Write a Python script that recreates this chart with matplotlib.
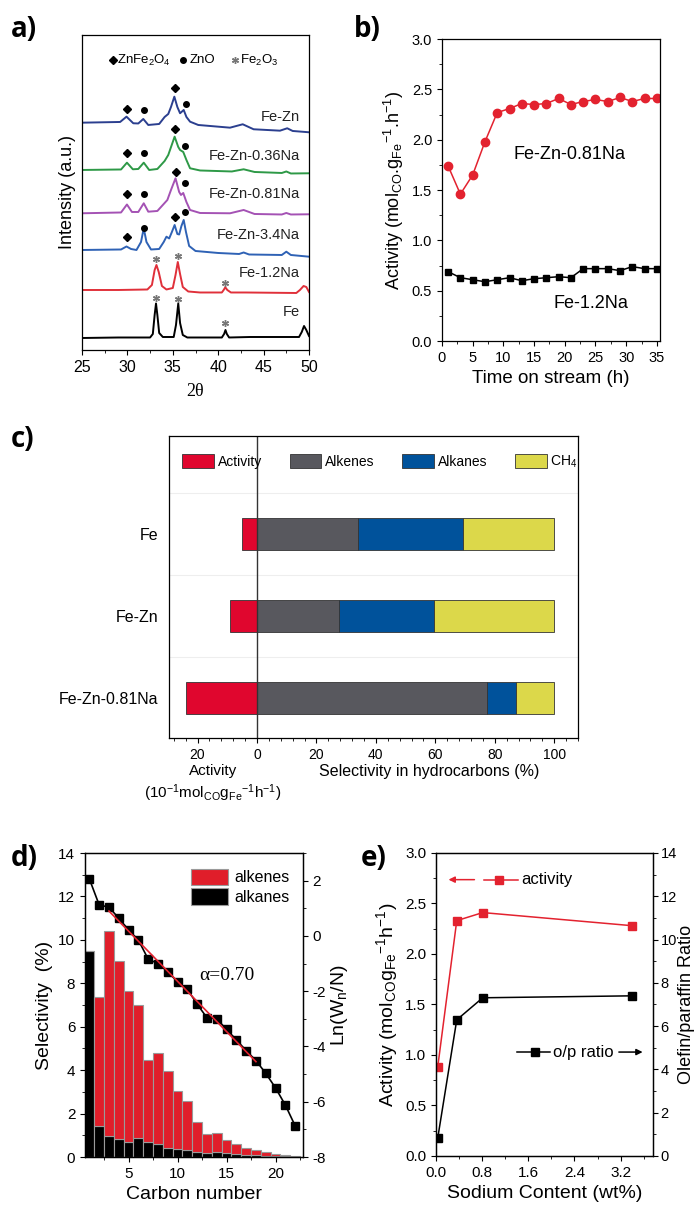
import numpy as np
import matplotlib
matplotlib.use("Agg")
import matplotlib.pyplot as plt
from matplotlib.ticker import MultipleLocator, FuncFormatter

plt.rcParams['font.family'] = ['Liberation Sans', 'DejaVu Sans']
plt.rcParams['mathtext.fontset'] = 'custom'
plt.rcParams['mathtext.rm'] = 'Liberation Sans'
plt.rcParams['mathtext.it'] = 'Liberation Sans:italic'
plt.rcParams['mathtext.default'] = 'regular'
plt.rcParams['axes.linewidth'] = 0.9
plt.rcParams['axes.unicode_minus'] = False
plt.rcParams['xtick.direction'] = 'out'
plt.rcParams['ytick.direction'] = 'out'

# ── a) XRD patterns (2theta, intensity a.u.) ────────────────────────────────
fe_tt = [25, 29, 32.5, 32.8, 33.0, 33.15, 33.3, 33.5, 33.9, 35.1, 35.35, 35.6, 35.8,
         36.1, 36.6, 40.4, 40.65, 40.8, 40.95, 41.2, 43.5, 48.9, 49.2, 49.45, 49.7, 50]
fe_int = [12, 12.5, 12.5, 16, 35, 46.5, 35, 17, 13, 13, 25, 46.5, 27,
          15, 12.5, 12.5, 16, 20, 16, 12.5, 13, 13, 18, 24, 20, 14]

fe12_tt = [25, 29, 32.2, 32.7, 33.0, 33.2, 33.45, 33.8, 34.3, 35.0, 35.3, 35.55, 35.8,
           36.1, 36.7, 38, 40.4, 40.6, 40.78, 41.0, 41.4, 43, 48.6, 49.0, 49.4, 49.7, 50]
fe12_int = [60, 60, 60.5, 65, 80, 85, 78, 64, 60.5, 62, 75, 88, 76,
            63, 58.5, 57.5, 57.5, 60, 62.7, 60, 57.5, 57.5, 57, 60, 64, 63, 58]

zn34_tt = [25, 29.3, 29.9, 30.4, 31.0, 31.5, 31.8, 32.1, 32.6, 33.5, 34.0, 34.3, 34.6,
           34.9, 35.2, 35.5, 35.7, 35.95, 36.2, 36.45, 36.8, 37.5, 40, 42.3, 42.8, 43.4,
           47.0, 47.5, 48, 50]
zn34_int = [100, 100.5, 103.5, 101, 100, 108, 121.7, 108, 100.5, 101, 108, 113.3, 111.5,
            118, 125, 116, 115.5, 124, 130, 118, 104, 99, 97, 96, 97.5, 95.5,
            95, 98.3, 95, 93.3]

zn081_tt = [25, 29.3, 29.95, 30.5, 31.2, 31.8, 32.3, 33.3, 34.0, 34.4, 34.8, 35.3, 35.7,
            35.9, 36.15, 36.5, 36.9, 38, 41.3, 42.8, 44, 47, 47.5, 48, 50]
zn081_int = [136.7, 137.5, 145.5, 138, 138, 146.7, 138.3, 139, 146, 150, 160, 171.7, 158,
             155, 157, 148, 140, 137, 136.7, 140, 136, 135.5, 137, 135.5, 135.7]

zn036_tt = [25, 29.3, 29.95, 30.6, 31.2, 31.8, 32.4, 33.3, 34.1, 34.5, 35.2, 35.6, 35.8,
            36.15, 36.5, 36.9, 38, 41.5, 42.8, 44, 47, 47.5, 48, 50]
zn036_int = [180, 180.5, 187.3, 180.7, 181, 187.3, 180, 181, 189, 195, 213.3, 203, 200,
             198, 190, 181.7, 179.5, 178.5, 180.7, 178, 177, 178.5, 176.5, 176.7]

fezn_tt = [25, 29.2, 29.9, 30.65, 31.2, 31.75, 32.3, 33.5, 34.1, 34.5, 34.8, 35.17, 35.5,
           35.8, 36.2, 36.5, 36.9, 37.8, 41.3, 42.7, 43.9, 46.8, 47.6, 48.2, 50]
fezn_int = [227.3, 228, 233.3, 226.7, 226.5, 231, 225, 226, 233, 236, 243, 253.3, 243,
            236.7, 240, 233, 228.3, 225, 222.3, 225.7, 220.7, 219.3, 221.7, 219, 217.7]

xrd_names = ["Fe-Zn", "Fe-Zn-0.36Na", "Fe-Zn-0.81Na", "Fe-Zn-3.4Na", "Fe-1.2Na", "Fe"]
xrd_label_y = [233, 194, 156, 115, 77, 38]

# phase markers (2theta, height)
znfe_tt = [30, 35.2, 30, 35.2, 30, 35.3, 30, 35.2]
znfe_y = [240.7, 261.7, 196.7, 220.7, 156, 178.3, 113.3, 132.7]
zno_tt = [31.8, 36.4, 31.8, 36.3, 31.8, 36.3, 31.8, 36.3]
zno_y = [240, 245.7, 196.7, 204.3, 156, 166.7, 121.7, 137.7]
fe2o3_tt = [33.2, 35.6, 40.8, 33.1, 35.6, 40.8]
fe2o3_y = [90.7, 94, 67.3, 52.3, 50.7, 26.7]

# ── b) activity vs time on stream ───────────────────────────────────────────
tos = [1, 3, 5, 7, 9, 11, 13, 15, 17, 19, 21, 23, 25, 27, 29, 31, 33, 35]
act_fezn081 = [1.74, 1.46, 1.65, 1.98, 2.27, 2.31, 2.36, 2.35, 2.36, 2.41, 2.35, 2.38,
               2.40, 2.38, 2.42, 2.38, 2.41, 2.41]
act_fe12 = [0.69, 0.63, 0.61, 0.59, 0.61, 0.63, 0.60, 0.62, 0.63, 0.64, 0.63, 0.72,
            0.72, 0.72, 0.70, 0.74, 0.72, 0.72]

# ── c) activity and selectivity ─────────────────────────────────────────────
cat_c = ["Fe-Zn-0.81Na", "Fe-Zn", "Fe"]
activity_c = [24, 9, 5]
alkenes_c = [77.4, 27.6, 34.0]
alkanes_c = [9.8, 32.0, 35.4]
ch4_c = [12.8, 40.4, 30.6]

# ── d) product distribution ─────────────────────────────────────────────────
carbon = [1, 2, 3, 4, 5, 6, 7, 8, 9, 10, 11, 12, 13, 14, 15, 16, 17, 18, 19, 20, 21, 22]
alkanes_d = [9.5, 1.42, 0.95, 0.85, 0.69, 0.88, 0.71, 0.62, 0.43, 0.35, 0.32, 0.22,
             0.20, 0.25, 0.17, 0.14, 0.11, 0.09, 0.06, 0.04, 0.03, 0.02]
alkenes_d = [0, 5.96, 9.48, 8.18, 6.97, 6.12, 3.78, 4.15, 3.54, 2.68, 2.25, 1.40,
             0.88, 0.86, 0.63, 0.44, 0.32, 0.23, 0.17, 0.10, 0.06, 0.03]
ln_wn = [2.06, 1.12, 1.04, 0.64, 0.22, -0.15, -0.84, -1.00, -1.30, -1.66, -1.93, -2.47,
         -2.96, -3.00, -3.38, -3.76, -4.15, -4.51, -4.97, -5.50, -6.12, -6.87]

# ── e) effect of sodium content ─────────────────────────────────────────────
na_wt = [0.03, 0.36, 0.81, 3.4]
act_na = [0.88, 2.33, 2.41, 2.28]
op_ratio = [0.82, 6.29, 7.31, 7.40]

RED = "#e3222f"
fig = plt.figure(figsize=(6.96, 12.14), dpi=100)
PANEL = dict(fontsize=20, fontweight="bold", family="Open Sans", va="top")
fig.text(0.015, 0.988, "a)", **PANEL)
fig.text(0.508, 0.988, "b)", **PANEL)
fig.text(0.015, 0.650, "c)", **PANEL)
fig.text(0.015, 0.305, "d)", **PANEL)
fig.text(0.518, 0.305, "e)", **PANEL)

# ── a) ──────────────────────────────────────────────────────────────────────
ax = fig.add_axes([0.1178, 0.7117, 0.3262, 0.2595])
curves = [(fezn_tt, fezn_int, "#2b3f8f"), (zn036_tt, zn036_int, "#2e9947"),
          (zn081_tt, zn081_int, "#a452b4"), (zn34_tt, zn34_int, "#2f62b5"),
          (fe12_tt, fe12_int, "#e0303a"), (fe_tt, fe_int, "black")]
for (tt, inten, col), name, ly in zip(curves, xrd_names, xrd_label_y):
    ax.plot(tt, inten, color=col, lw=1.4)
    ax.text(49.0, ly, name, ha="right", va="center", fontsize=10.5, color="#222222")
ax.plot(znfe_tt, znfe_y, "D", color="black", ms=4.5, ls="none")
ax.plot(zno_tt, zno_y, "o", color="black", ms=4, ls="none")
ax.plot(fe2o3_tt, fe2o3_y, marker=(6, 2, 0), color="#777777", ms=5, ls="none", mew=1)
# phase key
ax.plot([28.45], [290], "D", color="black", ms=4.5)
ax.text(28.9, 290, "ZnFe$_2$O$_4$", va="center", fontsize=9.5)
ax.plot([36.1], [290], "o", color="black", ms=4)
ax.text(36.9, 290, "ZnO", va="center", fontsize=9.5)
ax.plot([41.8], [290], marker=(6, 2, 0), color="#777777", ms=5, mew=1)
ax.text(42.4, 290, "Fe$_2$O$_3$", va="center", fontsize=9.5)
ax.set_xlim(25, 50)
ax.set_ylim(0, 315)
ax.set_yticks([])
ax.xaxis.set_major_locator(MultipleLocator(5))
ax.xaxis.set_minor_locator(MultipleLocator(2.5))
ax.tick_params(labelsize=11.5)
ax.set_ylabel("Intensity (a.u.)", fontsize=13)
ax.set_xlabel("2θ", fontsize=13, family="Liberation Serif", labelpad=6)

# ── b) ──────────────────────────────────────────────────────────────────────
ax = fig.add_axes([0.635, 0.719, 0.3132, 0.2488])
ax.plot(tos, act_fezn081, "-o", color=RED, ms=6, lw=1.1)
ax.plot(tos, act_fe12, "-s", color="black", ms=5, lw=1.1)
ax.text(11.7, 1.85, "Fe-Zn-0.81Na", fontsize=13, va="center")
ax.text(18.2, 0.37, "Fe-1.2Na", fontsize=13, va="center")
ax.set_xlim(0, 35.5)
ax.set_ylim(0, 3.0)
ax.xaxis.set_major_locator(MultipleLocator(5))
ax.xaxis.set_minor_locator(MultipleLocator(2.5))
ax.yaxis.set_major_locator(MultipleLocator(0.5))
ax.yaxis.set_minor_locator(MultipleLocator(0.25))
ax.yaxis.set_major_formatter(FuncFormatter(lambda v, p: f"{v:.1f}"))
ax.tick_params(labelsize=10.5)
ax.set_xlabel("Time on stream (h)", fontsize=13.5)
ax.set_ylabel("Activity (mol$_{CO}$.g$_{Fe}$$^{-1}$.h$^{-1}$)", fontsize=13)

# ── c) ──────────────────────────────────────────────────────────────────────
NARROW = ["Liberation Sans Narrow", "Liberation Sans", "DejaVu Sans"]
ax = fig.add_axes([0.2428, 0.392, 0.5876, 0.2488])
ypos = np.arange(len(cat_c))
h = 0.39
ec = dict(edgecolor="#333333", linewidth=0.6)
b1 = ax.barh(ypos, [-a for a in activity_c], height=h, color="#e0062e", label="Activity", **ec)
b2 = ax.barh(ypos, alkenes_c, height=h, color="#58585e", label="Alkenes", **ec)
left2 = np.array(alkenes_c)
b3 = ax.barh(ypos, alkanes_c, left=left2, height=h, color="#00529b", label="Alkanes", **ec)
left3 = left2 + np.array(alkanes_c)
b4 = ax.barh(ypos, ch4_c, left=left3, height=h, color="#dcd84a", label="CH$_4$", **ec)
for yv in [0.5, 1.5, 2.5]:
    ax.axhline(yv, color="#eeeeee", lw=0.8, zorder=0)
ax.axvline(0, color="#333333", lw=1.0)
ax.set_xlim(-29.6, 108)
ax.set_ylim(-0.49, 3.2)
ax.set_yticks(ypos)
ax.set_yticklabels(cat_c, family=NARROW, fontsize=11.5)
ax.tick_params(axis="y", length=0, pad=8)
ax.set_xticks([-20, 0, 20, 40, 60, 80, 100])
ax.xaxis.set_major_formatter(FuncFormatter(lambda v, p: f"{abs(v):.0f}"))
ax.xaxis.set_minor_locator(MultipleLocator(4))
ax.tick_params(axis="x", labelsize=10)
for lab in ax.get_xticklabels():
    lab.set_family(NARROW)
trans = ax.get_xaxis_transform()
ax.text(-14.8, -0.085, "Activity\n(10$^{-1}$mol$_{CO}$g$_{Fe}$$^{-1}$h$^{-1}$)", transform=trans,
        ha="center", va="top", fontsize=11, family=NARROW, linespacing=1.3)
ax.text(58, -0.085, "Selectivity in hydrocarbons (%)", transform=trans,
        ha="center", va="top", fontsize=11.5, family=NARROW)
ax.legend(handles=[b1, b2, b3, b4], ncol=4, loc="upper left", bbox_to_anchor=(0.015, 0.965),
          frameon=False, handlelength=2.3, handleheight=1.15, columnspacing=2.0,
          handletextpad=0.25, borderpad=0, prop=dict(family=NARROW, size=10))

# ── d) ──────────────────────────────────────────────────────────────────────
ax = fig.add_axes([0.1221, 0.04695, 0.3132, 0.2504])
bk = ax.bar(carbon, alkanes_d, width=1.0, color="black", edgecolor="#9a9a9a", lw=0.8,
            label="alkanes")
rd = ax.bar(carbon, alkenes_d, bottom=alkanes_d, width=1.0, color="#e01e2a",
            edgecolor="#9a9a9a", lw=0.8, label="alkenes")
ax.set_xlim(0.55, 22.8)
ax.set_ylim(0, 14)
ax.xaxis.set_major_locator(MultipleLocator(5))
ax.xaxis.set_minor_locator(MultipleLocator(2.5))
ax.yaxis.set_major_locator(MultipleLocator(2))
ax.yaxis.set_minor_locator(MultipleLocator(1))
ax.tick_params(labelsize=11)
ax.set_xlabel("Carbon number", fontsize=14)
ax.set_ylabel("Selectivity  (%)", fontsize=14)
ax.legend(handles=[rd, bk], loc="upper left", bbox_to_anchor=(0.45, 0.975), frameon=False,
          handlelength=2.3, handleheight=1.25, labelspacing=0.15, handletextpad=0.4,
          borderpad=0, fontsize=11.5)
ax2 = ax.twinx()
ax2.plot(carbon, ln_wn, "-s", color="black", ms=5.5, lw=1.2)
cfit = np.array(carbon[2:18])
coef = np.polyfit(cfit, np.array(ln_wn[2:18]), 1)
ax2.plot(cfit, np.polyval(coef, cfit), color=RED, lw=1.2)
ax2.text(15.0, -1.42, "α=0.70", ha="center", va="center", fontsize=14,
         family="Liberation Serif")
ax2.set_ylim(-8, 3)
ax2.yaxis.set_major_locator(MultipleLocator(2))
ax2.yaxis.set_minor_locator(MultipleLocator(1))
ax2.tick_params(labelsize=11)
ax2.set_ylabel("Ln(W$_n$/N)", fontsize=14, labelpad=2)

# ── e) ──────────────────────────────────────────────────────────────────────
ax = fig.add_axes([0.6264, 0.04778, 0.3118, 0.2496])
ax.plot(na_wt, act_na, "-s", color=RED, ms=5.5, lw=1.1)
ax.set_xlim(0, 3.76)
ax.set_ylim(0, 3.0)
ax.xaxis.set_major_locator(MultipleLocator(0.8))
ax.xaxis.set_minor_locator(MultipleLocator(0.4))
ax.yaxis.set_major_locator(MultipleLocator(0.5))
ax.yaxis.set_minor_locator(MultipleLocator(0.25))
ax.xaxis.set_major_formatter(FuncFormatter(lambda v, p: f"{v:.1f}"))
ax.yaxis.set_major_formatter(FuncFormatter(lambda v, p: f"{v:.1f}"))
ax.tick_params(labelsize=11)
ax.set_xlabel("Sodium Content (wt%)", fontsize=14)
ax.set_ylabel("Activity (mol$_{CO}$g$_{Fe}$$^{-1}$h$^{-1}$)", fontsize=14)
# key: activity <- left axis
ta = ax.transAxes
ax.annotate("", xy=(0.045, 0.912), xytext=(0.19, 0.912), xycoords=ta, textcoords=ta,
            arrowprops=dict(arrowstyle="-|>", color=RED, lw=1.1, mutation_scale=9))
ax.plot([0.22, 0.29, 0.38], [0.912, 0.912, 0.912], color=RED, lw=1.1, transform=ta,
        marker="s", ms=5.5, markevery=[1])
ax.text(0.395, 0.912, "activity", transform=ta, va="center", fontsize=12)
ax2 = ax.twinx()
ax2.plot(na_wt, op_ratio, "-s", color="black", ms=5.5, lw=1.1)
ax2.set_ylim(0, 14)
ax2.yaxis.set_major_locator(MultipleLocator(2))
ax2.yaxis.set_minor_locator(MultipleLocator(1))
ax2.tick_params(labelsize=10.5, pad=2)
ax2.set_ylabel("Olefin/paraffin Ratio", fontsize=13, labelpad=1)
ax2.plot([0.372, 0.457, 0.526], [0.343, 0.343, 0.343], color="black", lw=1.1,
         transform=ta, marker="s", ms=5.5, markevery=[1])
ax2.text(0.54, 0.343, "o/p ratio", transform=ta, va="center", fontsize=12)
ax2.annotate("", xy=(0.965, 0.343), xytext=(0.83, 0.343), xycoords=ta, textcoords=ta,
             arrowprops=dict(arrowstyle="-|>", color="black", lw=1.1, mutation_scale=9))

fig.savefig("out.png", dpi=100)
